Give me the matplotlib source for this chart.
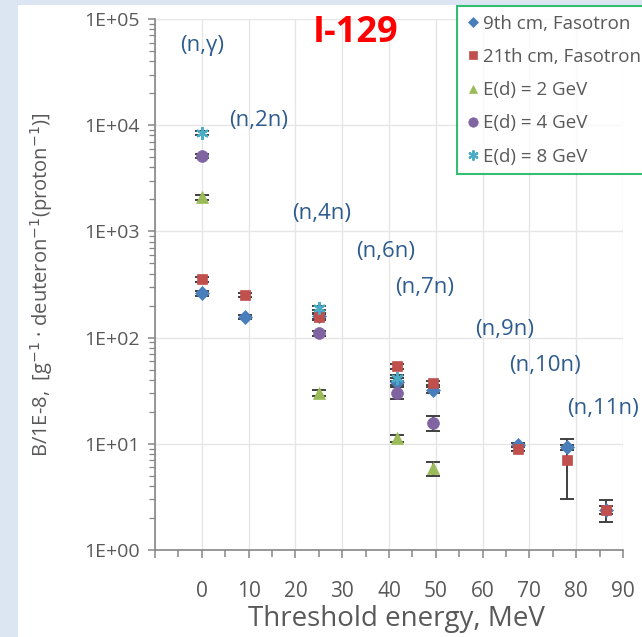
import matplotlib
matplotlib.use("Agg")
import matplotlib.pyplot as plt
from matplotlib.patches import Rectangle
from matplotlib.ticker import LogLocator, MultipleLocator, FixedLocator, NullFormatter

plt.rcParams["font.family"] = ["Open Sans", "DejaVu Sans"]

# threshold energies (MeV) and yields, B/1E-8
x_fas = [0, 9.2, 25, 41.8, 49.5, 67.5, 78.1, 86.3]
y_9cm = [261, 157, 160, 38.5, 32.0, 9.7, 9.3, 2.4]
e_9cm = [15, 8, 10, 3, 2, 0.4, 0.5, 0.2]
y_21cm = [354, 252, 157, 54, 37.4, 8.9, 7.0, 2.38]
e_21cm = [20, 12, 10, 3, 2, 0.4, 4.0, 0.55]

x_gev = [0, 25, 41.8, 49.5]
y_2gev = [2100, 29.9, 11.3, 5.9]
e_2gev = [120, 2, 0.8, 0.9]
y_4gev = [5130, 110, 30.3, 15.8]
e_4gev = [200, 6, 4, 2.5]

x_8gev = [0, 25, 41.8]
y_8gev = [8500, 190, 41.7]
e_8gev = [400, 10, 3]

reactions = ["(n,γ)", "(n,2n)", "(n,4n)", "(n,6n)", "(n,7n)", "(n,9n)", "(n,10n)", "(n,11n)"]
react_x = [0, 12.2, 25.6, 39.2, 47.6, 64.6, 73.4, 85.7]
react_y = [56900, 11000, 1490, 640, 299, 118, 55, 21.3]

fig = plt.figure(figsize=(6.42, 6.37), dpi=100)
fig.patch.set_facecolor("#dce6f2")
fig.patches.append(Rectangle((18 / 642, 0), 1, (637 - 5) / 637, transform=fig.transFigure,
                             facecolor="white", edgecolor="none", zorder=-10))

ax = fig.add_axes([155 / 642, (637 - 550) / 637, (623 - 155) / 642, (550 - 19) / 637])
ax.set_facecolor("none")

series = [
    (x_fas, y_9cm, e_9cm, "D", "#4a7ebb", 7.0, "9th cm, Fasotron"),
    (x_fas, y_21cm, e_21cm, "s", "#c0504d", 7.0, "21th cm, Fasotron"),
    (x_gev, y_2gev, e_2gev, "^", "#9bbb59", 8.0, "E(d) = 2 GeV"),
    (x_gev, y_4gev, e_4gev, "o", "#8064a2", 8.5, "E(d) = 4 GeV"),
    (x_8gev, y_8gev, e_8gev, (6, 2, 0), "#4bacc6", 9.0, "E(d) = 8 GeV"),
]
for xs, ys, es, mk, col, ms, lab in series:
    ax.errorbar(xs, ys, yerr=es, fmt="none", ecolor="#404040", elinewidth=1.4,
                capsize=5, capthick=1.4, zorder=3)
    ax.plot(xs, ys, linestyle="none", marker=mk, color=col, markersize=ms,
            markeredgecolor=col, markeredgewidth=1.6 if mk == (6, 2, 0) else 0.5,
            label=lab, zorder=4)

ax.set_yscale("log")
ax.set_xlim(-10, 90)
ax.set_ylim(1, 1e5)
ax.yaxis.set_minor_locator(LogLocator(base=10, subs=range(2, 10), numticks=10))
ax.yaxis.set_minor_formatter(NullFormatter())
ax.set_yticks([1, 10, 100, 1e3, 1e4, 1e5])
ax.set_yticklabels(["1E+00", "1E+01", "1E+02", "1E+03", "1E+04", "1E+05"])
ax.xaxis.set_major_locator(FixedLocator(range(-10, 91, 10)))
ax.xaxis.set_minor_locator(MultipleLocator(5))
ax.set_xticklabels([""] + [str(v) for v in range(0, 91, 10)])

ax.grid(True, which="major", color="#e6e6e6", linewidth=1.0, zorder=0)
ax.set_axisbelow(True)
for s in ["top", "right"]:
    ax.spines[s].set_visible(False)
for s in ["left", "bottom"]:
    ax.spines[s].set_color("#868686")
    ax.spines[s].set_linewidth(1.2)

ax.tick_params(axis="x", which="major", direction="out", length=6, width=1.1,
               color="#868686", labelsize=15, labelcolor="#595959", pad=16)
ax.tick_params(axis="x", which="minor", direction="out", length=5, width=1.1, color="#868686")
ax.tick_params(axis="y", which="major", direction="out", length=5, width=1.1,
               color="#868686", labelsize=14, labelcolor="#595959", pad=6)
ax.tick_params(axis="y", which="minor", direction="out", length=4, width=0.9, color="#868686")

ax.set_xlabel("Threshold energy, MeV", fontsize=20, color="#595959")
ax.xaxis.set_label_coords((396 - 155) / 468, -0.104)
ax.set_ylabel("B/1E-8,  [g$^{-1}$ · deuteron$^{-1}$(proton$^{-1}$)]", fontsize=14.5,
              color="#595959")
ax.yaxis.set_label_coords((55 - 155) / 468, 0.5)

for lab, rx, ry in zip(reactions, react_x, react_y):
    ax.text(rx, ry, lab, ha="center", va="center", fontsize=16, color="#2e5c8f")

ax.text(32.8, 73800, "I-129", ha="center", va="center", fontsize=26,
        fontweight="bold", color="#ff0000")

leg = fig.legend(loc="lower left", bbox_to_anchor=(457 / 642, (637 - 174) / 637),
                 fontsize=13.5, frameon=True, fancybox=False, labelspacing=0.81,
                 handletextpad=0.1, handlelength=0.85, borderpad=0.45, borderaxespad=0,
                 markerscale=0.8)
leg.get_frame().set_edgecolor("#00b050")
leg.get_frame().set_linewidth(1.5)
for t in leg.get_texts():
    t.set_color("#595959")

fig.savefig("out.png", dpi=100, facecolor=fig.get_facecolor())
